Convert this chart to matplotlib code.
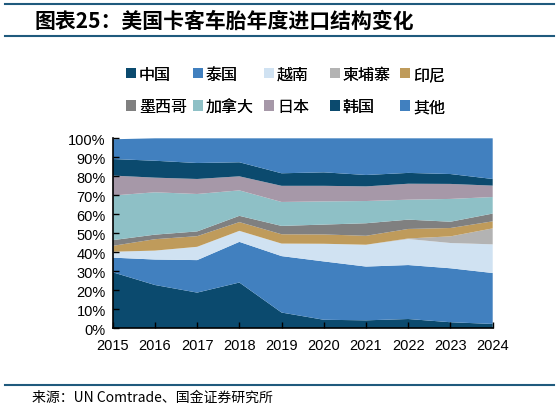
import matplotlib
matplotlib.use("Agg")
import matplotlib.pyplot as plt
from matplotlib.lines import Line2D
from matplotlib.patches import Patch
import numpy as np

plt.rcParams['font.family'] = ['Noto Sans CJK SC', 'DejaVu Sans']

years = [2015, 2016, 2017, 2018, 2019, 2020, 2021, 2022, 2023, 2024]
series_names = ["中国", "泰国", "越南", "柬埔寨", "印尼", "墨西哥", "加拿大", "日本", "韩国", "其他"]

china     = [29.5, 22.8, 18.8, 24.1, 8.3, 4.5, 4.2, 4.9, 3.2, 2.3]
thailand  = [7.7, 13.4, 17.1, 21.4, 29.7, 30.7, 28.3, 28.4, 28.4, 26.8]
vietnam   = [3.1, 4.7, 7.0, 5.8, 6.6, 9.3, 11.5, 13.7, 13.3, 15.1]
cambodia  = [0.0, 0.0, 0.0, 0.0, 0.0, 0.0, 0.0, 0.3, 3.5, 8.4]
indonesia = [3.1, 6.0, 5.6, 4.6, 4.9, 4.9, 4.7, 5.0, 4.4, 3.7]
mexico    = [3.0, 2.4, 2.5, 3.3, 4.4, 5.2, 6.6, 4.9, 3.3, 4.1]
canada    = [23.5, 22.3, 19.7, 13.4, 12.6, 12.2, 11.7, 10.5, 12.0, 8.7]
japan     = [10.5, 7.7, 7.9, 7.4, 8.5, 8.2, 7.7, 8.4, 7.9, 6.0]
korea     = [8.7, 8.9, 8.4, 7.4, 6.6, 7.1, 6.0, 5.7, 5.2, 3.5]
others    = [10.4, 11.8, 13.0, 12.6, 18.4, 17.9, 19.3, 18.2, 18.8, 21.4]

colors = ["#0B4A6E", "#4180BF", "#D0E2F2", "#B3B3B3", "#BF9B5B",
          "#808080", "#8EC0C6", "#A698A8", "#0B4A6E", "#4180BF"]

data = np.array([china, thailand, vietnam, cambodia, indonesia,
                 mexico, canada, japan, korea, others]) / 100.0

fig = plt.figure(figsize=(5.59, 4.10), dpi=100)
ax = fig.add_axes([0.2016, 0.1968, 0.6798, 0.4634])

ax.stackplot(years, data, colors=colors, linewidth=0)

ax.set_xlim(years[0], years[-1])
ax.set_ylim(0, 1)
ax.set_yticks(np.arange(0, 1.01, 0.1))
ax.set_yticklabels([f"{int(round(v*100))}%" for v in np.arange(0, 1.01, 0.1)])
ax.set_xticks(years)
ax.set_xticklabels([str(y) for y in years])
for lab in ax.get_xticklabels() + ax.get_yticklabels():
    lab.set_fontfamily(['Liberation Sans', 'DejaVu Sans'])
    lab.set_fontsize(10.5)
ax.tick_params(axis='both', direction='in', length=4, width=1, color='black', pad=5)
ax.tick_params(axis='x', pad=7)
for s in ['top', 'right']:
    ax.spines[s].set_visible(False)
for s in ['left', 'bottom']:
    ax.spines[s].set_linewidth(1.2)
    ax.spines[s].set_color('black')

# legend: five columns of two items each
handles = [Patch(facecolor=c, edgecolor='none') for c in colors]
col_x = [126, 193, 264, 330, 400]
W, H = 559.0, 410.0
for ci in range(5):
    idx = [ci, ci + 5]
    leg = fig.legend([handles[i] for i in idx], [series_names[i] for i in idx],
                     loc='upper left', bbox_to_anchor=(col_x[ci] / W, 1 - 67 / H),
                     frameon=False, fontsize=11.5, handlelength=0.6, handleheight=0.6,
                     handletextpad=0.2, labelspacing=0.95, borderpad=0, borderaxespad=0)
    fig.add_artist(leg)

# title and decorative lines
line_c = "#1F5A7D"
fig.add_artist(Line2D([5 / W, 554 / W], [1 - 5 / H, 1 - 5 / H], color=line_c, lw=1.5))
fig.add_artist(Line2D([5 / W, 554 / W], [1 - 37 / H, 1 - 37 / H], color=line_c, lw=1.5))
fig.text(34 / W, 1 - 21 / H, "图表25：美国卡客车胎年度进口结构变化", fontsize=15,
         fontweight='bold', va='center', ha='left', color='black')

fig.add_artist(Line2D([5 / W, 554 / W], [1 - 386 / H, 1 - 386 / H], color=line_c, lw=1.5))
fig.text(32 / W, 1 - 398 / H, "来源：UN Comtrade、国金证券研究所", fontsize=10,
         va='center', ha='left', color='black')

fig.savefig("out.png", dpi=100)
